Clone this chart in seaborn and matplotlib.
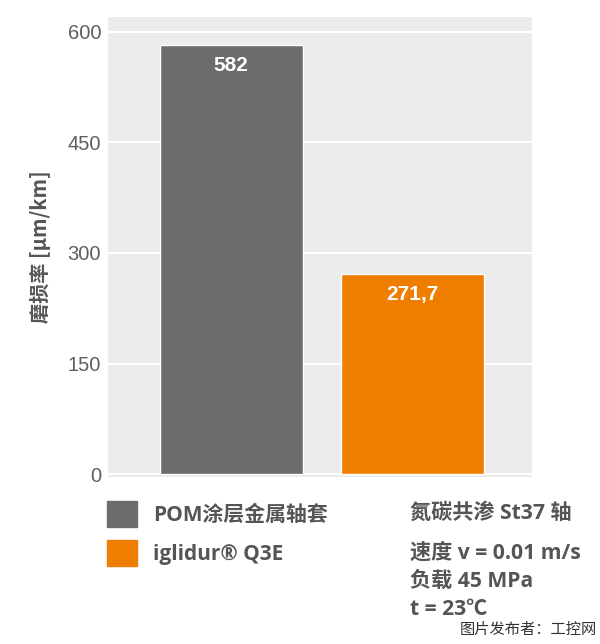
import pandas as pd
import matplotlib.pyplot as plt
import seaborn as sns

sns.set_theme(style="darkgrid")
plt.rcParams['font.family'] = ['Noto Sans CJK SC', 'DejaVu Sans']

materials = ['POM涂层金属轴套', 'iglidur® Q3E']
wear_rate = [582, 271.7]
value_labels = ['582', '271,7']
bar_colors = ['#6d6b6b', '#ef7d00']
y_ticks = [0, 150, 300, 450, 600]
conditions = ['氮碳共渗 St37 轴', '速度 v = 0.01 m/s', '负载 45 MPa', 't = 23℃']

df = pd.DataFrame({'material': materials, 'wear': wear_rate})
text_fonts = ['Open Sans', 'Noto Sans CJK SC', 'DejaVu Sans']

fig = plt.figure(figsize=(6, 6.44), dpi=100)
ax = fig.add_axes([0.18, 0.259, 0.707, 0.715])
ax.set_facecolor('#ececec')

sns.barplot(data=df, x='material', y='wear', hue='material', palette=bar_colors,
            width=0.79, ax=ax, legend=False, saturation=1)

ax.set_xlim(-0.68, 1.66)
ax.set_ylim(-4, 620)
ax.set_yticks(y_ticks)
ax.set_yticklabels([str(t) for t in y_ticks], family='Liberation Sans', fontsize=14.5, color='#5f5f5f')
ax.set_xticks([])
ax.set_xlabel('')
ax.set_ylabel('磨损率 [µm/km]', fontsize=14.5, fontweight='bold', color='#555555', labelpad=12)
ax.tick_params(axis='y', length=0, pad=5)
ax.grid(axis='y', color='white', linewidth=1.5)
ax.grid(axis='x', visible=False)
for s in ax.spines.values():
    s.set_visible(False)

# value labels inside the top of each bar
for p, lab in zip(ax.patches, value_labels):
    ax.annotate(lab, (p.get_x() + p.get_width() / 2, p.get_height()),
                xytext=(0, -15), textcoords='offset points', ha='center', va='center',
                color='white', fontsize=15, fontweight='bold', family='Liberation Sans')

handles = [plt.Rectangle((0, 0), 1, 1, color=c) for c in bar_colors]
leg = fig.legend(handles, materials, loc='upper left', bbox_to_anchor=(0.165, 0.235),
                 frameon=False, fontsize=15, handlelength=1.4, handleheight=1.55,
                 labelspacing=0.62, handletextpad=0.8, borderaxespad=0)
for t in leg.get_texts():
    t.set_color('#555555')
    t.set_fontweight('bold')
    t.set_family(text_fonts)

for i, line in enumerate(conditions):
    y = 0.203 - (0.062 if i > 0 else 0) - 0.0435 * max(i - 1, 0)
    fig.text(0.683, y, line, fontsize=15.2, fontweight='bold', color='#555555', va='center',
             family=text_fonts)

fig.text(0.995, 0.023, '图片发布者：工控网', fontsize=11, color='#333333', ha='right', va='center')

plt.savefig('out.png', dpi=100)
